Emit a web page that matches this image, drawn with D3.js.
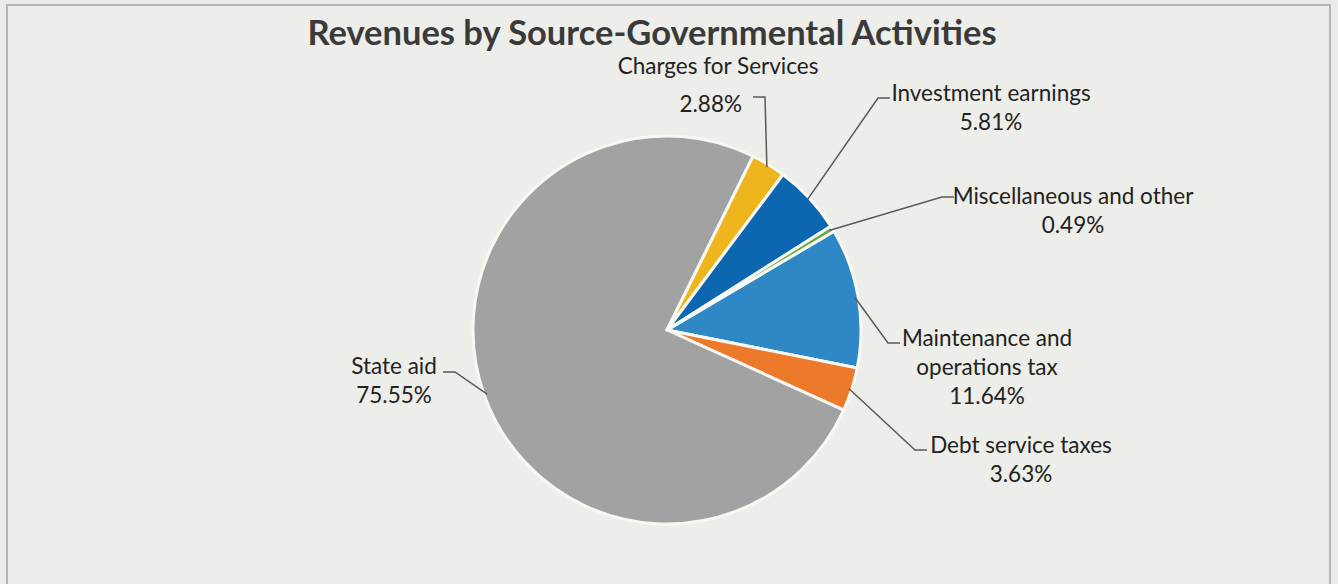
<!DOCTYPE html>
<html lang="en">
<head>
    <meta charset="UTF-8">
    <title>Revenues by Source</title>
    <script src="https://cdn.jsdelivr.net/npm/d3@7"></script>
    <style>
        body { margin: 0; background: #ebebe7; }
        svg { display: block; }
        text { font-family: Lato, "Open Sans", sans-serif; fill: #222; }
        .title { font-weight: bold; font-size: 34.5px; fill: #3a3a3a; }
        .lbl { font-size: 22.5px; }
        .leader { fill: none; stroke: #595959; stroke-width: 1.5px; }
    </style>
</head>
<body>
<div id="chart"></div>
<script>
    // data, in Excel series order (drawn clockwise)
    const sources = ["Maintenance and operations tax", "Debt service taxes", "State aid",
                     "Charges for Services", "Investment earnings", "Miscellaneous and other"];
    const shares = [11.64, 3.63, 75.55, 2.88, 5.81, 0.49];
    const labelLines = [["Maintenance and", "operations tax"], ["Debt service taxes"], ["State aid"],
                        ["Charges for Services"], ["Investment earnings"], ["Miscellaneous and other"]];
    const colors = ["#2f88c6", "#ec7a2a", "#a2a2a2", "#efb51d", "#0d67b0", "#6aaa44"];

    // label placement (relative to pie centre), text anchor x and first baseline y
    const labelLayout = [
        {x: 320, y: 16, anchor: "middle", elbow: [221, 13]},
        {x: 354, y: 123, anchor: "middle", elbow: [248, 120]},
        {x: -273, y: 44, anchor: "middle", elbow: [-212, 42]},
        {x: 51, y: -256, anchor: "middle", pct: {x: 75, y: -218, anchor: "end"}, elbow: [98, -233]},
        {x: 324, y: -229, anchor: "middle", elbow: [211, -232]},
        {x: 406, y: -126, anchor: "middle", elbow: [275, -133]}
    ];

    const width = 1338, height = 584;
    const cx = 667, cy = 330, radius = 194;
    const startDeg = 59.4;

    const svg = d3.select("#chart").append("svg")
        .attr("width", width)
        .attr("height", height);

    svg.append("rect")
        .attr("x", 7).attr("y", 5)
        .attr("width", 1323).attr("height", 585)
        .attr("fill", "#edede9")
        .attr("stroke", "#b5b5b2")
        .attr("stroke-width", 2);

    svg.append("text")
        .attr("class", "title")
        .attr("x", 652).attr("y", 45)
        .attr("text-anchor", "middle")
        .text("Revenues by Source-Governmental Activities");

    const pie = d3.pie()
        .sort(null)
        .startAngle(startDeg * Math.PI / 180)
        .endAngle(startDeg * Math.PI / 180 + 2 * Math.PI);

    const arcs = pie(shares);

    const arc = d3.arc().innerRadius(0).outerRadius(radius);

    const g = svg.append("g").attr("transform", `translate(${cx},${cy})`);

    g.selectAll("path.slice")
        .data(arcs)
        .enter()
        .append("path")
        .attr("class", "slice")
        .attr("d", arc)
        .attr("fill", (d, i) => colors[i])
        .attr("stroke", "#f7f7f4")
        .attr("stroke-width", 3)
        .attr("stroke-linejoin", "round");

    // leader lines from the arc edge at mid angle to an elbow next to the label
    arcs.forEach((d, i) => {
        const mid = (d.startAngle + d.endAngle) / 2;
        const px = Math.sin(mid) * (radius - 3);
        const py = -Math.cos(mid) * (radius - 3);
        const L = labelLayout[i];
        const ex = L.elbow[0], ey = L.elbow[1];
        const hx = ex + (ex > px ? 12 : -12);
        g.append("path")
            .attr("class", "leader")
            .attr("d", `M${px},${py}L${ex},${ey}L${hx},${ey}`);

        const lines = labelLines[i];
        lines.forEach((t, k) => {
            g.append("text")
                .attr("class", "lbl")
                .attr("x", L.x)
                .attr("y", L.y + k * 29)
                .attr("text-anchor", L.anchor)
                .text(t);
        });
        const pct = shares[i].toFixed(2) + "%";
        const p = L.pct || {x: L.x, y: L.y + lines.length * 29, anchor: L.anchor};
        g.append("text")
            .attr("class", "lbl")
            .attr("x", p.x)
            .attr("y", p.y)
            .attr("text-anchor", p.anchor)
            .text(pct);
    });
</script>
</body>
</html>
